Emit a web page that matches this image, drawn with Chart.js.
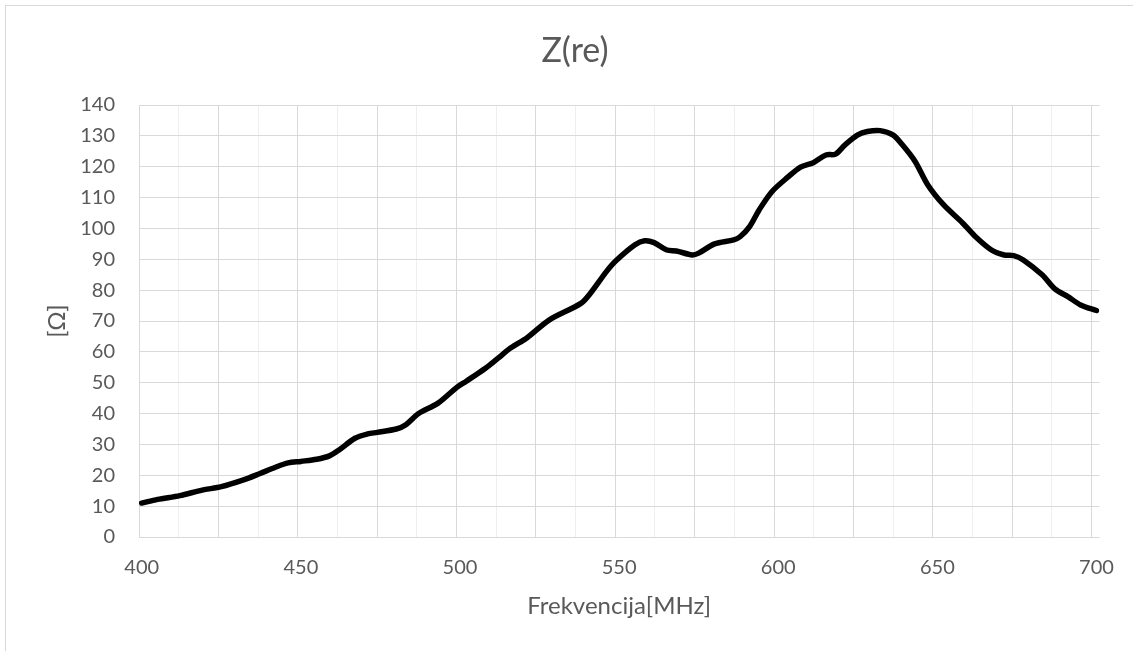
<!DOCTYPE html>
<html>
<head>
<meta charset="utf-8">
<script src="https://cdn.jsdelivr.net/npm/chart.js@4"></script>
<style>
  body { margin: 0; background: #fff; }
  canvas { display: block; }
</style>
</head>
<body>
<canvas id="zChart" width="1133" height="651"></canvas>
<script>
// values
const freqMHz = [400, 405, 412, 419, 425, 432, 437, 442, 446, 450, 455, 459, 462, 467, 471, 474,
  480, 483, 487, 493, 499, 502, 508, 512, 516, 521, 528, 538, 541, 546, 549, 555, 558, 561,
  565, 568, 573, 575, 580, 586, 588, 591, 594, 598, 603, 607, 611, 615, 618, 621, 625, 628,
  632, 636, 639, 643, 647, 652, 658, 662, 667, 671, 674, 677, 683, 687, 691, 695, 700];
const zRe = [11.0, 12.2, 13.4, 15.2, 16.3, 18.5, 20.5, 22.6, 24.0, 24.5, 25.2, 26.3, 28.2, 32.0, 33.4, 33.9,
  35.0, 36.4, 40.0, 43.3, 48.5, 50.5, 54.7, 58.0, 61.3, 64.5, 70.3, 75.7, 79.0, 86.0, 89.5, 94.7, 96.0, 95.4,
  93.0, 92.7, 91.4, 92.0, 95.0, 96.3, 97.3, 100.6, 106.0, 111.9, 116.6, 119.9, 121.3, 123.8, 124.1, 127.1, 130.3, 131.4,
  131.7, 130.3, 127.1, 121.7, 114.1, 107.6, 101.7, 97.3, 93.0, 91.4, 91.2, 89.8, 84.9, 80.3, 77.9, 75.2, 73.4];

const xLabels = [400, 450, 500, 550, 600, 650, 700];
const yLabels = [0, 10, 20, 30, 40, 50, 60, 70, 80, 90, 100, 110, 120, 130, 140];
const titleText = "Z(re)";
const xTitle = "Frekvencija[MHz]";
const yTitle = "[Ω]";

const xMin = 399.15, xMax = 700.9;
const gridStep = 12.47;

const textColor = "#595959";
const fontFamily = "Lato, 'Open Sans', sans-serif";

const frame = {
  id: "frame",
  beforeDraw(chart) {
    const ctx = chart.ctx;
    ctx.save();
    ctx.fillStyle = "#fff";
    ctx.fillRect(0, 0, chart.width, chart.height);
    ctx.strokeStyle = "#d9d9d9";
    ctx.lineWidth = 1;
    ctx.strokeRect(5.5, 5.5, chart.width + 20, chart.height + 20);
    ctx.fillStyle = textColor;
    ctx.font = "34px " + fontFamily;
    ctx.textAlign = "center";
    ctx.textBaseline = "alphabetic";
    ctx.fillText(titleText, 575, 62);
    ctx.restore();
  }
};

new Chart(document.getElementById("zChart"), {
  type: "line",
  data: {
    datasets: [{
      data: freqMHz.map((f, i) => ({ x: f, y: zRe[i] })),
      borderColor: "#000",
      borderWidth: 5.5,
      borderCapStyle: "round",
      borderJoinStyle: "round",
      pointRadius: 0,
      tension: 0.3,
      fill: false,
      xAxisID: "x",
      yAxisID: "y"
    }]
  },
  options: {
    responsive: false,
    animation: false,
    layout: { padding: { left: 0, top: 105, right: 31.3, bottom: 0 } },
    plugins: {
      legend: { display: false },
      tooltip: { enabled: false },
      title: { display: false }
    },
    scales: {
      x: {
        type: "linear",
        position: "bottom",
        min: xMin,
        max: xMax,
        afterBuildTicks: s => { s.ticks = xLabels.map(v => ({ value: v })); },
        afterFit: s => { s.height = 114; },
        grid: { display: false, drawTicks: false },
        border: { display: false },
        ticks: { color: textColor, font: { family: fontFamily, size: 20 }, padding: 19, maxRotation: 0 },
        title: { display: true, text: xTitle, color: textColor, font: { family: fontFamily, size: 24 }, padding: { top: 0, bottom: 30.6 } }
      },
      xGrid: {
        type: "linear",
        position: "bottom",
        min: xMin,
        max: xMax,
        afterBuildTicks: s => {
          const t = [];
          for (let k = 0; k <= 24; k++) t.push({ value: xMin + k * gridStep });
          s.ticks = t;
        },
        afterFit: s => { s.height = 0; },
        grid: {
          drawTicks: false,
          color: c => (c.index % 2 === 0 ? "#d9d9d9" : "#efefef"),
          lineWidth: 1
        },
        border: { display: false },
        ticks: { display: false }
      },
      y: {
        min: 0,
        max: 140,
        afterBuildTicks: s => { s.ticks = yLabels.map(v => ({ value: v })); },
        afterFit: s => { s.width = 139; },
        grid: { color: "#d9d9d9", drawTicks: false, lineWidth: 1 },
        border: { display: false },
        ticks: { color: textColor, font: { family: fontFamily, size: 20 }, padding: 24 },
        title: { display: true, text: yTitle, color: textColor, font: { family: fontFamily, size: 24 }, padding: { top: 42.6, bottom: 0 } }
      }
    }
  },
  plugins: [frame]
});
</script>
</body>
</html>
